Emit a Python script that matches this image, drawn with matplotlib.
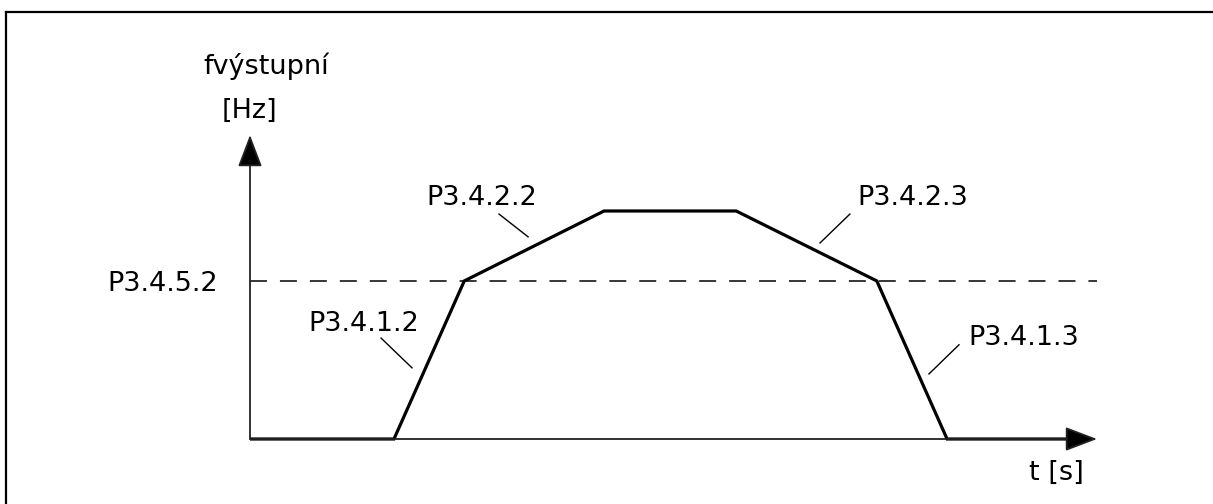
import matplotlib
matplotlib.use("Agg")
import matplotlib.pyplot as plt
from matplotlib.lines import Line2D

# ---------------- data ----------------
time_s = [0.0, 1.70, 2.53, 4.18, 5.74, 7.40, 8.23, 9.65]
freq_pct = [0.0, 0.0, 52.0, 75.0, 75.0, 52.0, 0.0, 0.0]
threshold_pct = 52.0
t_max = 10.0
f_max = 100.0

y_label_top = "fvýstupní"
y_label_unit = "[Hz]"
x_label = "t [s]"
threshold_label = "P3.4.5.2"
seg_labels = ["P3.4.1.2", "P3.4.2.2", "P3.4.2.3", "P3.4.1.3"]
# label anchors (t, f) and leader lines ((t0, f0), (t1, f1))
seg_label_pos = [(0.685, 35.5), (2.077, 77.0), (7.166, 77.0), (8.477, 31.0)]
seg_leaders = [((1.547, 33.2), (1.913, 23.4)),
               ((2.940, 74.0), (3.283, 66.5)),
               ((7.083, 74.0), (6.730, 64.5)),
               ((8.371, 31.0), (8.016, 21.4))]

# ---------------- layout (pixels) ----------------
W, H, DPI = 1213, 504, 100
x0_px, xend_px = 250, 1097    # t = 0, t = t_max
y0_px, yend_px = 439, 135     # f = 0, f = f_max (from top)

fig = plt.figure(figsize=(W / DPI, H / DPI), dpi=DPI)
ax = fig.add_axes([0, 0, 1, 1])
sx = (xend_px - x0_px) / t_max
sy = (y0_px - yend_px) / f_max
ax.set_xlim(-x0_px / sx, (W - x0_px) / sx)
ax.set_ylim((y0_px - H) / sy, y0_px / sy)
ax.axis("off")

FS = 19.5
font = dict(family="DejaVu Sans", fontsize=FS, color="black")

def px2d(px, py):
    return ((px - x0_px) / sx, (y0_px - py) / sy)

# border (top + left)
fig.add_artist(Line2D([6 / W, 6 / W], [0, 1 - 12 / H], transform=fig.transFigure,
                      color="black", lw=1.6, solid_capstyle="projecting"))
fig.add_artist(Line2D([6 / W, 1], [1 - 12 / H, 1 - 12 / H], transform=fig.transFigure,
                      color="black", lw=1.6, solid_capstyle="projecting"))

# axes with arrows
arrow_style = "-|>,head_length=1.0,head_width=0.38"
for tip in [(0, f_max), (t_max, 0)]:
    ax.annotate("", xy=tip, xytext=(0, 0),
                arrowprops=dict(arrowstyle=arrow_style, mutation_scale=20,
                                lw=1.3, color="#222222", fc="black",
                                shrinkA=0, shrinkB=0))

# threshold dashed line
ax.plot([0, t_max], [threshold_pct, threshold_pct], color="black", lw=1.1,
        dashes=(11.1, 8.5), solid_capstyle="butt")

# frequency profile
ax.plot(time_s, freq_pct, color="black", lw=2.3, solid_joinstyle="miter",
        solid_capstyle="butt")

# leader lines
for (a, b) in seg_leaders:
    ax.plot([a[0], b[0]], [a[1], b[1]], color="black", lw=1.0)

# labels
for lab, (tx, fy) in zip(seg_labels, seg_label_pos):
    ax.text(tx, fy, lab, ha="left", va="baseline", **font)

tx, ty = px2d(218, 291)
ax.text(tx, ty, threshold_label, ha="right", va="baseline", **font)
tx, ty = px2d(203, 74)
ax.text(tx, ty, y_label_top, ha="left", va="baseline", **font)
tx, ty = px2d(222, 118)
ax.text(tx, ty, y_label_unit, ha="left", va="baseline", **font)
tx, ty = px2d(1029, 480)
ax.text(tx, ty, x_label, ha="left", va="baseline", **font)

fig.savefig("out.png", dpi=DPI, facecolor="white")
